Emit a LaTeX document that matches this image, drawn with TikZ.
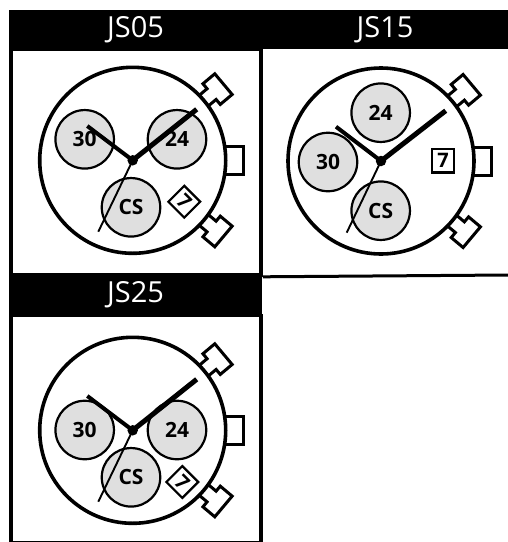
\documentclass[tikz,border=0pt]{standalone}
\usepackage{fontspec}
\setmainfont{Open Sans}
\definecolor{dialgray}{HTML}{DFDFDF}
\tikzset{
    heading/.style={fill=black, text=white, inner sep=0pt, minimum height=39.5pt, font=\fontsize{29}{29}\selectfont},
    panelbox/.style={draw=black, line width=3.6pt, minimum width=250.2pt, inner sep=0pt},
    subdial/.style={circle, draw=black, fill=dialgray, line width=2.2pt, minimum size=58.5pt, inner sep=0pt, font=\fontsize{21}{21}\selectfont\bfseries},
    datebox/.style={draw=black, fill=white, line width=2.2pt, inner sep=0pt, minimum size=22.5pt, font=\fontsize{20}{20}\selectfont\bfseries},
    hub/.style={circle, fill=black, minimum size=10.5pt, inner sep=0pt},
    hourhand/.style={line width=4pt},
    minutehand/.style={line width=5pt},
    secondhand/.style={line width=1.9pt},
    button/.style={draw=black, fill=white, line width=3pt},
    movement/.pic={
        \draw[button] (92,-14) rectangle (110.5,14);
        \draw[button, rotate=40] (90,7) -- (103,7) -- (103,13.5) -- (118.5,13.5) -- (118.5,-13.5) -- (103,-13.5) -- (103,-7) -- (90,-7);
        \draw[button, rotate=-40] (90,7) -- (103,7) -- (103,13.5) -- (118.5,13.5) -- (118.5,-13.5) -- (103,-13.5) -- (103,-7) -- (90,-7);
        \draw[draw=black, fill=white, line width=3.6pt] (0,0) circle (93pt);
    }
}

\begin{document}
\begin{tikzpicture}[x=1pt, y=-1pt]
    \useasboundingbox (0,0) rectangle (508,542);

    % JS05
    \node[panelbox, minimum height=226pt] (box05) at (135.9,162) {};
    \node[heading, minimum width=253pt] (head05) at (135.5,29.5) {JS05};
    \pic at (132.7,160.3) {movement};
    \node[subdial] (sub05a) at (84.7,139.3) {30};
    \node[subdial] (sub05b) at (177,139.3) {24};
    \node[subdial] (sub05c) at (131,207.3) {CS};
    \node[datebox, rotate=-45] (date05) at (184.3,201.7) {7};
    \node[hub] (hub05) at (132.7,160.3) {};
    \coordinate (hour05) at (87.3,126);
    \coordinate (min05) at (196.7,109.3);
    \coordinate (sec05) at (98.3,231.7);
    \draw[hourhand] (hub05.center) -- (hour05);
    \draw[minutehand] (hub05.center) -- (min05);
    \draw[secondhand] (hub05.center) -- (sec05);

    % JS15
    \node[heading, minimum width=246pt] (head15) at (385,29.5) {JS15};
    \coordinate (edge15) at (508,275);
    \draw[line width=3pt] (box05.south east) -- (edge15);
    \pic at (381,161) {movement};
    \node[subdial] (sub15a) at (328,162) {30};
    \node[subdial] (sub15b) at (380.7,112.7) {24};
    \node[subdial] (sub15c) at (380.7,210.7) {CS};
    \node[datebox, minimum width=21.5pt, minimum height=23.5pt] (date15) at (443,160.7) {7};
    \node[hub] (hub15) at (381,161) {};
    \coordinate (hour15) at (336,126.7);
    \coordinate (min15) at (445.7,110.7);
    \coordinate (sec15) at (346.7,232.7);
    \draw[hourhand] (hub15.center) -- (hour15);
    \draw[minutehand] (hub15.center) -- (min15);
    \draw[secondhand] (hub15.center) -- (sec15);

    % JS25
    \node[panelbox, minimum height=227pt] (box25) at (135.9,429) {};
    \node[heading, minimum width=253pt] (head25) at (135.5,295) {JS25};
    \pic at (132.7,430.3) {movement};
    \node[subdial] (sub25a) at (84.7,430) {30};
    \node[subdial] (sub25b) at (177,430) {24};
    \node[subdial] (sub25c) at (131,477.3) {CS};
    \node[datebox, rotate=-45] (date25) at (182.3,482) {7};
    \node[hub] (hub25) at (132.7,430.3) {};
    \coordinate (hour25) at (87.3,396);
    \coordinate (min25) at (196.7,379.3);
    \coordinate (sec25) at (98.3,501.7);
    \draw[hourhand] (hub25.center) -- (hour25);
    \draw[minutehand] (hub25.center) -- (min25);
    \draw[secondhand] (hub25.center) -- (sec25);
\end{tikzpicture}
\end{document}
